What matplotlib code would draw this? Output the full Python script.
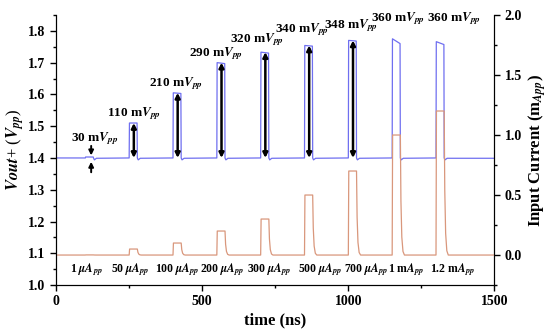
import matplotlib
matplotlib.use('Agg')
import matplotlib.pyplot as plt
from matplotlib.ticker import MultipleLocator, FormatStrFormatter

plt.rcParams['font.family'] = ['Liberation Serif', 'DejaVu Serif']
plt.rcParams['font.weight'] = 'bold'
plt.rcParams['mathtext.fontset'] = 'stix'

# pulse data
t_on = [100, 250, 400, 550, 700, 850, 1000, 1150, 1300]   # ns
width = 28
v_base = 1.4
v_top_start = [1.403, 1.51, 1.605, 1.70, 1.733, 1.754, 1.77, 1.775, 1.766]
v_top_end = [1.403, 1.51, 1.603, 1.697, 1.730, 1.752, 1.768, 1.760, 1.757]
i_amp = [0.001, 0.05, 0.10, 0.20, 0.30, 0.50, 0.70, 1.00, 1.20]  # mA
v_labels = ['30', '110', '210', '290', '320', '340', '348', '360', '360']
i_labels = [r'1 $\mu\mathbfit{A}_{pp}$', r'50 $\mu\mathbfit{A}_{pp}$', r'100 $\mu\mathbfit{A}_{pp}$',
            r'200 $\mu\mathbfit{A}_{pp}$', r'300 $\mu\mathbfit{A}_{pp}$', r'500 $\mu\mathbfit{A}_{pp}$',
            r'700 $\mu\mathbfit{A}_{pp}$', r'1 m$\mathbfit{A}_{pp}$', r'1.2 m$\mathbfit{A}_{pp}$']
v_label_x = [133, 267, 410, 547, 687, 841, 1008, 1169, 1363]
v_label_y = [1.46, 1.539, 1.633, 1.727, 1.771, 1.803, 1.815, 1.84, 1.84]
i_label_x = [105, 253, 414, 570, 729, 905, 1063, 1199, 1357]

# build polylines of the two traces from the pulse list
tv, vv = [0], [v_base]
ti, ii = [0], [0.0]
for k, t0 in enumerate(t_on):
    t1 = t0 + width
    tv += [t0, t0 + 1, t1 - 1, t1, t1 + 3, t1 + 10]
    vv += [v_base, v_top_start[k], v_top_end[k], v_base, v_base - 0.006, v_base - 0.001]
    ti += [t0, t0 + 1.5, t1, t1 + 2, t1 + 5, t1 + 9, t1 + 14]
    a = i_amp[k]
    ii += [0, a, a, 0.45 * a, 0.15 * a, 0.03 * a, 0]
tv.append(1500); vv.append(v_base - 0.001)
ti.append(1500); ii.append(0.0)

fig = plt.figure(figsize=(5.5, 3.33), dpi=100)
ax1 = fig.add_axes([0.102, 0.144, 0.797, 0.811])
ax2 = ax1.twinx()

ax1.plot(tv, vv, color='#6f6ff0', lw=0.9)
ax2.plot(ti, ii, color='#d9977c', lw=0.9)

ax1.set_xlim(0, 1500)
ax1.set_ylim(1.0, 1.85)
ax2.set_ylim(-0.25, 2.0)

for ax in (ax1, ax2):
    ax.spines['top'].set_visible(False)
    ax.tick_params(which='both', direction='out', labelsize=10)
    ax.tick_params(which='major', length=4, width=1)
    ax.tick_params(which='minor', length=2.5, width=1)
ax1.xaxis.set_major_locator(MultipleLocator(500))
ax1.xaxis.set_minor_locator(MultipleLocator(250))
ax1.yaxis.set_major_locator(MultipleLocator(0.1))
ax1.yaxis.set_minor_locator(MultipleLocator(0.05))
ax2.yaxis.set_major_locator(MultipleLocator(0.5))
ax2.yaxis.set_minor_locator(MultipleLocator(0.25))
ax1.yaxis.set_major_formatter(FormatStrFormatter('%.1f'))
ax2.yaxis.set_major_formatter(FormatStrFormatter('%.1f'))

ax1.set_xlabel('time (ns)', fontsize=12, fontweight='bold', labelpad=3)
ax1.set_ylabel(r'$Vout$+ ($V_{pp}$)', fontsize=12, labelpad=2)
ax2.set_ylabel(r'Input Current (m$_{App}$)', fontsize=12, fontweight='bold', labelpad=3)

# amplitude arrows
for k in range(1, 7):
    ax1.annotate('', xy=(t_on[k] + 16, v_top_start[k]), xytext=(t_on[k] + 16, v_base),
                 arrowprops=dict(arrowstyle='<|-|>', color='k', lw=1.8,
                                 mutation_scale=7, shrinkA=0, shrinkB=0))
ax1.annotate('', xy=(120, 1.408), xytext=(120, 1.438),
             arrowprops=dict(arrowstyle='-|>', color='k', lw=1.4, mutation_scale=7,
                             shrinkA=0, shrinkB=0))
ax1.annotate('', xy=(120, 1.388), xytext=(120, 1.355),
             arrowprops=dict(arrowstyle='-|>', color='k', lw=1.4, mutation_scale=7,
                             shrinkA=0, shrinkB=0))

for k in range(len(t_on)):
    ax1.text(v_label_x[k], v_label_y[k], v_labels[k] + r' m$\mathbfit{V}_{pp}$', fontsize=9.5,
             ha='center', va='center')
    ax1.text(i_label_x[k], 1.047, i_labels[k], fontsize=8.5, ha='center', va='center')

fig.savefig('out.png', dpi=100)
